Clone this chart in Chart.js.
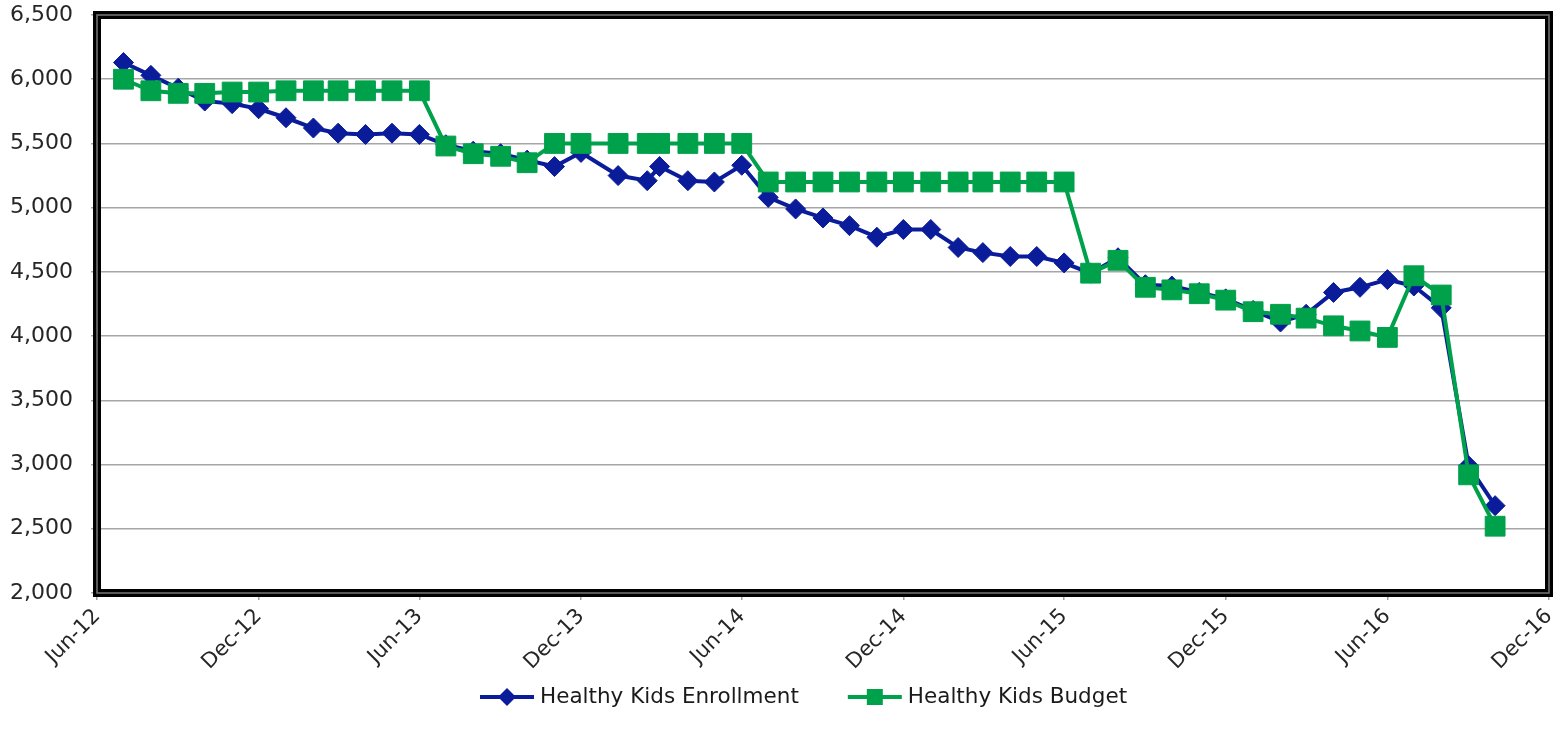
<!DOCTYPE html>
<html>
<head>
<meta charset="utf-8">
<script src="https://cdn.jsdelivr.net/npm/chart.js@4/dist/chart.umd.min.js"></script>
<style>
  html, body { margin: 0; padding: 0; background: #fff; }
  #wrap { width: 1566px; height: 741px; }
</style>
</head>
<body>
<div id="wrap"><canvas id="kidsChart"></canvas></div>
<script>
// reporting dates (most are the first of the month, a few early-2014 reports are mid-month)
const reportDates = [
  "2012-07-01", "2012-08-01", "2012-09-01", "2012-10-01", "2012-11-01", "2012-12-01",
  "2013-01-01", "2013-02-01", "2013-03-01", "2013-04-01", "2013-05-01", "2013-06-01",
  "2013-07-01", "2013-08-01", "2013-09-01", "2013-10-01", "2013-11-01", "2013-12-01",
  "2014-01-12", "2014-02-14", "2014-02-28", "2014-04-01", "2014-05-01", "2014-06-01",
  "2014-07-01", "2014-08-01", "2014-09-01", "2014-10-01", "2014-11-01", "2014-12-01",
  "2015-01-01", "2015-02-01", "2015-03-01", "2015-04-01", "2015-05-01", "2015-06-01",
  "2015-07-01", "2015-08-01", "2015-09-01", "2015-10-01", "2015-11-01", "2015-12-01",
  "2016-01-01", "2016-02-01", "2016-03-01", "2016-04-01", "2016-05-01", "2016-06-01",
  "2016-07-01", "2016-08-01", "2016-09-01", "2016-10-01"
];

const enrollment = [
  6130, 6030, 5930, 5830, 5810, 5770,
  5700, 5620, 5580, 5570, 5580, 5570,
  5490, 5440, 5420, 5370, 5320, 5430,
  5250, 5210, 5320, 5210, 5200, 5330,
  5080, 4990, 4920, 4860, 4770, 4830,
  4830, 4690, 4650, 4620, 4620, 4570,
  4490, 4610, 4400, 4390, 4340, 4290,
  4200, 4110, 4170, 4340, 4380, 4440,
  4390, 4220, 2990, 2680
];

const budget = [
  6000, 5910, 5890, 5890, 5900, 5900,
  5910, 5910, 5910, 5910, 5910, 5910,
  5480, 5420, 5400, 5350, 5500, 5500,
  5500, 5500, 5500, 5500, 5500, 5500,
  5200, 5200, 5200, 5200, 5200, 5200,
  5200, 5200, 5200, 5200, 5200, 5200,
  4490, 4590, 4380, 4360, 4330, 4280,
  4190, 4170, 4140, 4080, 4040, 3990,
  4470, 4320, 2920, 2520
];

const xTickLabels = ["Jun-12", "Dec-12", "Jun-13", "Dec-13", "Jun-14", "Dec-14", "Jun-15", "Dec-15", "Jun-16", "Dec-16"];
const yTicks = [2000, 2500, 3000, 3500, 4000, 4500, 5000, 5500, 6000, 6500];

const seriesNames = ["Healthy Kids Enrollment", "Healthy Kids Budget"];
const BLUE = "#0B1C9B";
const GREEN = "#00A14B";
const FONT = "'DejaVu Sans', Verdana, sans-serif";

const MONTHS = ["Jan", "Feb", "Mar", "Apr", "May", "Jun", "Jul", "Aug", "Sep", "Oct", "Nov", "Dec"];
const DAY = 86400000;

function dayNum(iso) {
  return Date.parse(iso + "T00:00:00Z") / DAY;
}
function labelToDay(lbl) {
  const [m, yy] = lbl.split("-");
  return Date.UTC(2000 + Number(yy), MONTHS.indexOf(m), 1) / DAY;
}
const xTickDays = xTickLabels.map(labelToDay);

function toPoints(values) {
  return values.map((v, i) => ({ x: dayNum(reportDates[i]), y: v }));
}

// thick double-line frame around the plot area
const frame = {
  id: "frame",
  beforeDatasetsDraw(chart) {
    const { ctx, chartArea: a } = chart;
    ctx.save();
    ctx.strokeStyle = "#000";
    ctx.lineWidth = 8;
    ctx.strokeRect(a.left, a.top, a.right - a.left, a.bottom - a.top);
    ctx.strokeStyle = "#777";
    ctx.lineWidth = 1.5;
    ctx.strokeRect(a.left, a.top, a.right - a.left, a.bottom - a.top);
    ctx.restore();
  }
};

// legend under the axis: line sample with its marker, then the series name
const lineLegend = {
  id: "lineLegend",
  afterDraw(chart) {
    const ctx = chart.ctx;
    const y = 697;
    const sample = 54, gap = 6, spacing = 49;
    let x = 480;
    ctx.save();
    ctx.font = "21.5px " + FONT;
    ctx.textBaseline = "middle";
    ctx.textAlign = "left";
    chart.data.datasets.forEach(ds => {
      ctx.strokeStyle = ds.borderColor;
      ctx.lineWidth = 4;
      ctx.beginPath();
      ctx.moveTo(x, y);
      ctx.lineTo(x + sample, y);
      ctx.stroke();
      const cx = x + sample / 2;
      ctx.fillStyle = ds.backgroundColor;
      ctx.beginPath();
      if (ds.pointStyle === "rectRot") {
        ctx.moveTo(cx, y - 9); ctx.lineTo(cx + 9, y); ctx.lineTo(cx, y + 9); ctx.lineTo(cx - 9, y);
      } else {
        ctx.rect(cx - 8, y - 8, 16, 16);
      }
      ctx.closePath();
      ctx.fill();
      ctx.fillStyle = "#1a1a1a";
      ctx.fillText(ds.label, x + sample + gap, y);
      x += sample + gap + ctx.measureText(ds.label).width + spacing;
    });
    ctx.restore();
  }
};

const ctx = document.getElementById("kidsChart").getContext("2d");
const kidsChart = new Chart(ctx, {
  type: "line",
  data: {
    datasets: [
      {
        label: seriesNames[0],
        data: toPoints(enrollment),
        borderColor: BLUE,
        backgroundColor: BLUE,
        borderWidth: 4,
        pointStyle: "rectRot",
        pointRadius: 10,
        pointBorderWidth: 1,
        pointHoverRadius: 10,
        tension: 0,
        order: 1
      },
      {
        label: seriesNames[1],
        data: toPoints(budget),
        borderColor: GREEN,
        backgroundColor: GREEN,
        borderWidth: 4,
        pointStyle: "rect",
        pointRadius: 14,
        pointBorderWidth: 1,
        pointHoverRadius: 14,
        tension: 0,
        order: 0
      }
    ]
  },
  options: {
    responsive: true,
    maintainAspectRatio: false,
    animation: false,
    layout: { padding: { left: 0, right: 17, top: 15, bottom: 68 } },
    plugins: {
      legend: { display: false },
      tooltip: { enabled: false }
    },
    scales: {
      x: {
        type: "linear",
        min: xTickDays[0],
        max: xTickDays[xTickDays.length - 1],
        afterBuildTicks(scale) {
          scale.ticks = xTickDays.map(v => ({ value: v }));
        },
        afterFit(scale) {
          scale.height = 80;
          scale.paddingLeft = 0;
          scale.paddingRight = 0;
        },
        grid: {
          drawOnChartArea: false,
          drawTicks: true,
          tickLength: 7,
          color: "#a0a0a0",
          lineWidth: 1.5
        },
        border: { display: false },
        ticks: {
          autoSkip: false,
          maxRotation: 45,
          minRotation: 45,
          padding: 4,
          color: "#262626",
          font: { family: FONT, size: 21 },
          callback(value) {
            const i = xTickDays.indexOf(value);
            return i >= 0 ? xTickLabels[i] : "";
          }
        }
      },
      y: {
        min: yTicks[0],
        max: yTicks[yTicks.length - 1],
        afterBuildTicks(scale) {
          scale.ticks = yTicks.map(v => ({ value: v }));
        },
        afterFit(scale) {
          scale.width = 97;
          scale.paddingTop = 0;
          scale.paddingBottom = 0;
        },
        grid: {
          color: "#a6a6a6",
          lineWidth: 1.5,
          drawTicks: true,
          tickLength: 6
        },
        border: { display: false },
        ticks: {
          padding: 18,
          color: "#262626",
          font: { family: FONT, size: 22 },
          callback(value) {
            return value.toLocaleString("en-US");
          }
        }
      }
    }
  },
  plugins: [frame, lineLegend]
});
</script>
</body>
</html>
